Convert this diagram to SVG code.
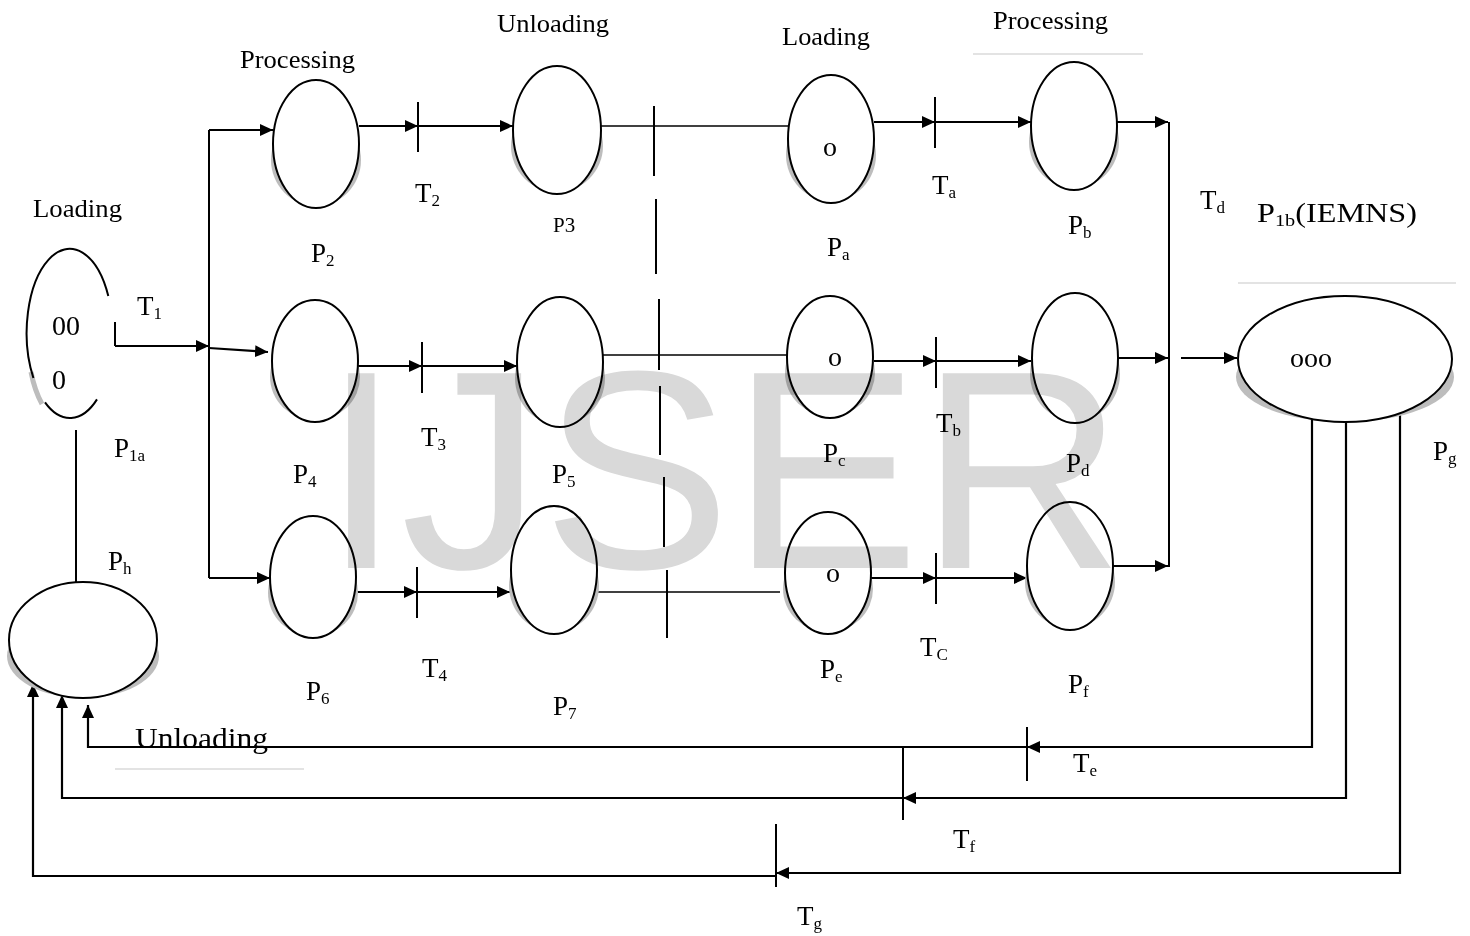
<svg xmlns="http://www.w3.org/2000/svg" width="1470" height="936" viewBox="0 0 1470 936">
<style>
.pl{fill:#fff;stroke:#000;stroke-width:2}
.sh{fill:#bdbdbd;stroke:none}
.ln{fill:none;stroke:#000;stroke-width:2}
.thin{fill:none;stroke:#000;stroke-width:1.6}
.ar{fill:none;stroke:#000;stroke-width:2.2;marker-end:url(#ah)}
.gl{stroke:#c8c8c8;stroke-width:1.2}
text{font-family:"Liberation Serif","Times New Roman",serif;fill:#000}
.lb{font-size:27px}
.sb{font-size:17px}
.wd{font-size:25px}
.tk{font-size:28px}
.wm{font-family:"Liberation Sans",Arial,sans-serif;font-size:283px;fill:#d9d9d9;mix-blend-mode:multiply}
</style>
<defs>
<marker id="ah" markerUnits="userSpaceOnUse" markerWidth="13" markerHeight="12" refX="13" refY="6" orient="auto">
<path d="M0,0 L13,6 L0,12 Z" fill="#000"/>
</marker>
</defs>
<rect width="1470" height="936" fill="#fff"/>

<g id="connectors">
<path class="ar" d="M115,346 H209"/>
<path class="ln" d="M115,322 V346"/>
<path class="ln" d="M209,130 V578"/>
<path class="ar" d="M209,130 H273"/>
<path class="ar" d="M209,348 L268,352"/>
<path class="ar" d="M209,578 H270"/>
<path class="ar" d="M359,126 H418"/>
<path class="ar" d="M418,126 H513"/>
<path class="ar" d="M358,366 H422"/>
<path class="ar" d="M422,366 H517"/>
<path class="ar" d="M357,592 H417"/>
<path class="ar" d="M417,592 H510"/>
<path class="thin" d="M601,126 H788"/>
<path class="thin" d="M603,355 H787"/>
<path class="thin" d="M597,592 H780"/>
<path class="ar" d="M874,122 H935"/>
<path class="ar" d="M935,122 H1031"/>
<path class="ar" d="M874,361 H936"/>
<path class="ar" d="M936,361 H1031"/>
<path class="ar" d="M871,578 H936"/>
<path class="ar" d="M936,578 H1027"/>
<path class="ar" d="M1117,122 H1168"/>
<path class="ar" d="M1119,358 H1168"/>
<path class="ar" d="M1113,566 H1168"/>
<path class="ar" d="M1181,358 H1237"/>
<path class="ln" d="M1169,122 V567"/>
<path class="ln" d="M418,102 V152 M422,342 V393 M417,567 V618 M935,97 V148 M936,337 V388 M936,553 V604"/>
<path class="ln" d="M654,106 V176 M656,199 V274 M659,299 V370 M660,386 V455 M664,477 V547 M667,570 V638"/>
<path class="ar" d="M1312,419 V747 H1027"/>
<path class="ar" d="M1027,747 H88 V705"/>
<path class="ar" d="M1346,422 V798 H903"/>
<path class="ar" d="M903,798 H62 V695"/>
<path class="ar" d="M1400,413 V873 H776"/>
<path class="ar" d="M776,876 H33 V684"/>
<path class="ln" d="M1027,727 V781 M903,747 V820 M776,824 V887"/>
<path class="ln" d="M76,430 V582"/>
<line class="gl" x1="973" y1="54" x2="1143" y2="54"/>
<line class="gl" x1="1238" y1="283" x2="1456" y2="283"/>
<line class="gl" x1="115" y1="769" x2="304" y2="769"/>
</g>

<g id="P1a">
<path d="M31,372 A43,84 0 0,0 42,404" fill="none" stroke="#bdbdbd" stroke-width="5"/>
<path class="ln" d="M108.3,296 A43,84 0 1,0 33.4,378"/>
<path class="ln" d="M45,402.4 A43,84 0 0,0 97,399.4"/>
<text class="tk" x="52" y="335">00</text>
<text class="tk" x="52" y="389">0</text>
</g>
<g id="Ph"><ellipse class="sh" cx="83" cy="656" rx="76" ry="42"/><ellipse class="pl" cx="83" cy="640" rx="74" ry="58"/></g>
<g id="P2"><ellipse class="sh" cx="316" cy="160" rx="45" ry="46"/><ellipse class="pl" cx="316" cy="144" rx="43" ry="64"/></g>
<g id="P3"><ellipse class="sh" cx="557" cy="146" rx="46" ry="46"/><ellipse class="pl" cx="557" cy="130" rx="44" ry="64"/></g>
<g id="Pa"><ellipse class="sh" cx="831" cy="155" rx="45" ry="46"/><ellipse class="pl" cx="831" cy="139" rx="43" ry="64"/><text class="tk" x="823" y="156">o</text></g>
<g id="Pb"><ellipse class="sh" cx="1074" cy="142" rx="45" ry="46"/><ellipse class="pl" cx="1074" cy="126" rx="43" ry="64"/></g>
<g id="P4"><ellipse class="sh" cx="315" cy="377" rx="45" ry="43"/><ellipse class="pl" cx="315" cy="361" rx="43" ry="61"/></g>
<g id="P5"><ellipse class="sh" cx="560" cy="378" rx="45" ry="47"/><ellipse class="pl" cx="560" cy="362" rx="43" ry="65"/></g>
<g id="Pc"><ellipse class="sh" cx="830" cy="373" rx="45" ry="43"/><ellipse class="pl" cx="830" cy="357" rx="43" ry="61"/><text class="tk" x="828" y="366">o</text></g>
<g id="Pd"><ellipse class="sh" cx="1075" cy="374" rx="45" ry="47"/><ellipse class="pl" cx="1075" cy="358" rx="43" ry="65"/></g>
<g id="P6"><ellipse class="sh" cx="313" cy="593" rx="45" ry="43"/><ellipse class="pl" cx="313" cy="577" rx="43" ry="61"/></g>
<g id="P7"><ellipse class="sh" cx="554" cy="586" rx="45" ry="46"/><ellipse class="pl" cx="554" cy="570" rx="43" ry="64"/></g>
<g id="Pe"><ellipse class="sh" cx="828" cy="589" rx="45" ry="43"/><ellipse class="pl" cx="828" cy="573" rx="43" ry="61"/><text class="tk" x="826" y="582">o</text></g>
<g id="Pf"><ellipse class="sh" cx="1070" cy="582" rx="45" ry="46"/><ellipse class="pl" cx="1070" cy="566" rx="43" ry="64"/></g>
<g id="P1b"><ellipse class="sh" cx="1345" cy="377" rx="109" ry="45"/><ellipse class="pl" cx="1345" cy="359" rx="107" ry="63"/><text class="tk" x="1290" y="367">ooo</text></g>

<g id="labels">
<text class="wd" x="33" y="217" textLength="89" lengthAdjust="spacingAndGlyphs">Loading</text>
<text class="wd" x="240" y="68" textLength="115" lengthAdjust="spacingAndGlyphs">Processing</text>
<text class="wd" x="497" y="32" textLength="112" lengthAdjust="spacingAndGlyphs">Unloading</text>
<text class="wd" x="782" y="45" textLength="88" lengthAdjust="spacingAndGlyphs">Loading</text>
<text class="wd" x="993" y="29" textLength="115" lengthAdjust="spacingAndGlyphs">Processing</text>
<text x="135" y="748" font-size="30" textLength="133" lengthAdjust="spacingAndGlyphs">Unloading</text>
<text class="lb" x="137" y="315">T<tspan class="sb" dy="4">1</tspan></text>
<text class="lb" x="114" y="457">P<tspan class="sb" dy="4">1a</tspan></text>
<text class="lb" x="108" y="570">P<tspan class="sb" dy="4">h</tspan></text>
<text class="lb" x="415" y="202">T<tspan class="sb" dy="4">2</tspan></text>
<text class="lb" x="311" y="262">P<tspan class="sb" dy="4">2</tspan></text>
<text x="553" y="232" font-size="21">P3</text>
<text class="lb" x="827" y="256">P<tspan class="sb" dy="4">a</tspan></text>
<text class="lb" x="932" y="194">T<tspan class="sb" dy="4">a</tspan></text>
<text class="lb" x="1068" y="234">P<tspan class="sb" dy="4">b</tspan></text>
<text class="lb" x="1200" y="209">T<tspan class="sb" dy="4">d</tspan></text>
<text class="lb" x="1257" y="222" textLength="160" lengthAdjust="spacingAndGlyphs">P<tspan class="sb" dy="4">1b</tspan><tspan dy="-4">(IEMNS)</tspan></text>
<text class="lb" x="421" y="446">T<tspan class="sb" dy="4">3</tspan></text>
<text class="lb" x="293" y="483">P<tspan class="sb" dy="4">4</tspan></text>
<text class="lb" x="552" y="483">P<tspan class="sb" dy="4">5</tspan></text>
<text class="lb" x="823" y="462">P<tspan class="sb" dy="4">c</tspan></text>
<text class="lb" x="936" y="432">T<tspan class="sb" dy="4">b</tspan></text>
<text class="lb" x="1066" y="472">P<tspan class="sb" dy="4">d</tspan></text>
<text class="lb" x="1433" y="460">P<tspan class="sb" dy="4">g</tspan></text>
<text class="lb" x="422" y="677">T<tspan class="sb" dy="4">4</tspan></text>
<text class="lb" x="306" y="700">P<tspan class="sb" dy="4">6</tspan></text>
<text class="lb" x="553" y="715">P<tspan class="sb" dy="4">7</tspan></text>
<text class="lb" x="820" y="678">P<tspan class="sb" dy="4">e</tspan></text>
<text class="lb" x="920" y="656">T<tspan class="sb" dy="4">C</tspan></text>
<text class="lb" x="1068" y="693">P<tspan class="sb" dy="4">f</tspan></text>
<text class="lb" x="1073" y="772">T<tspan class="sb" dy="4">e</tspan></text>
<text class="lb" x="953" y="848">T<tspan class="sb" dy="4">f</tspan></text>
<text class="lb" x="797" y="925">T<tspan class="sb" dy="4">g</tspan></text>
</g>

<text class="wm" x="322" y="568">IJSER</text>
</svg>
